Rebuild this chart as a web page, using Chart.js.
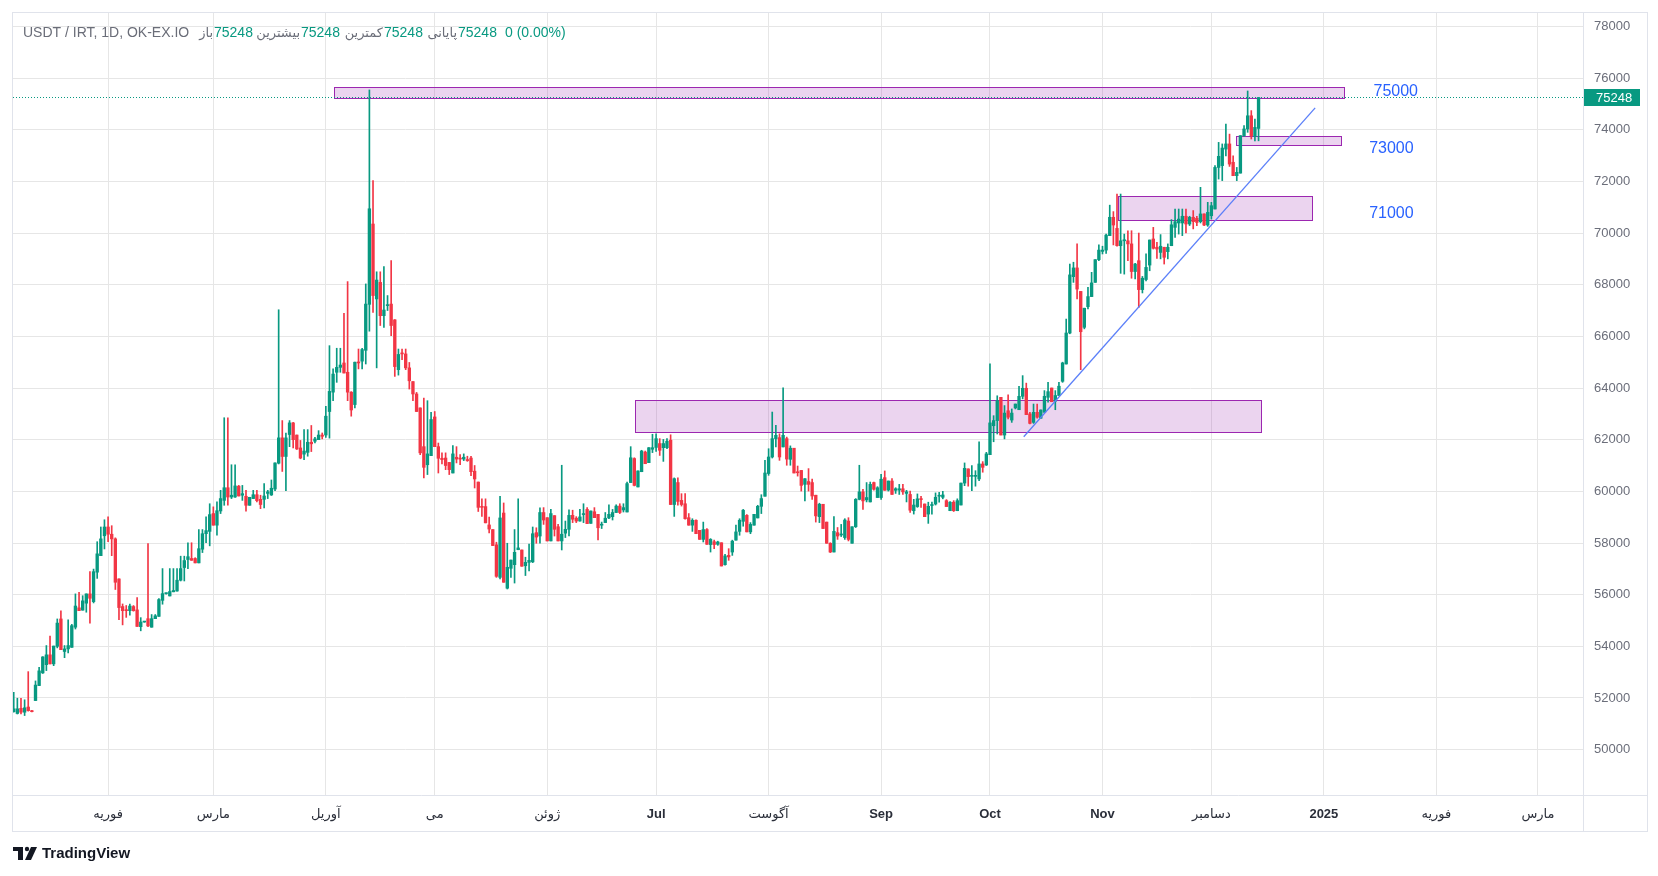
<!DOCTYPE html>
<html>
<head>
<meta charset="utf-8">
<title>USDT / IRT, 1D, OK-EX.IO</title>
<script src="https://cdn.jsdelivr.net/npm/chart.js@4.4.1/dist/chart.umd.min.js"></script>
<style>
    html, body { margin: 0; padding: 0; background: #ffffff; }
    canvas { display: block; }
</style>
</head>
<body>
<canvas id="usdtChart" width="1658" height="876" style="width:1658px;height:876px"></canvas>
<script>
// day index: 0 = 1 Jan 2024, one candle per day
const firstDay = 5;

const opens = [
    51470, 51400, 51600, 51450, 51650, 51510, 51900, 52480, 52970, 53290,
    53670, 53320, 54000, 55060, 53800, 53900, 53960, 54740, 55490, 55400,
    55670, 56030, 55730, 56870, 57510, 58280, 58620, 58340, 58160, 56610,
    55540, 55410, 55380, 55540, 55410, 54760, 54940, 55070, 54740, 55070,
    55160, 55780, 56040, 55950, 56110, 56140, 56560, 57050, 57360, 57400,
    57400, 57230, 57760, 58360, 58450, 59140, 58690, 59240, 59650, 60140,
    59780, 59780, 60200, 59850, 59810, 59460, 59720, 59870, 59690, 59690,
    59920, 59860, 60090, 61090, 62070, 61350, 62200, 62650, 62180, 61680,
    61440, 61510, 61900, 61940, 62000, 62180, 62180, 63090, 63840, 64610,
    64800, 64970, 64610, 63840, 63360, 65010, 65040, 65460, 67240, 70350,
    67450, 68090, 66800, 67190, 67250, 66640, 64710, 65360, 65320, 64780,
    64250, 63770, 63230, 61730, 61030, 61380, 62880, 61730, 61280, 61290,
    61120, 60710, 61320, 61280, 61250, 61230, 61290, 60780, 60360, 59410,
    59410, 58700, 58520, 57930, 56670, 59160, 56250, 57020, 57160, 57740,
    57730, 57120, 57250, 57270, 58400, 58270, 59180, 58980, 58080, 59060,
    58630, 58080, 58380, 58530, 59070, 58960, 58850, 59100, 59300, 58760,
    59210, 59110, 58690, 58790, 58970, 59020, 59180, 59430, 59280, 59200,
    60340, 61270, 60170, 60760, 61520, 61110, 61630, 61700, 61850, 61690,
    61690, 61980, 59490, 60340, 59650, 59520, 58980, 58690, 58880, 58490,
    58140, 58520, 57940, 58050, 57950, 58010, 57160, 57520, 57650, 58110,
    58450, 58840, 59070, 58430, 58690, 58970, 59420, 59810, 60690, 61330,
    62040, 62080, 61720, 62040, 61240, 61670, 60750, 60810, 60270, 60380,
    60340, 59850, 59020, 59500, 58810, 57990, 57650, 58400, 58310, 58210,
    58850, 57990, 58630, 59690, 59980, 59670, 59590, 60340, 59760, 59760,
    60530, 60050, 60400, 60040, 60050, 60100, 59920, 59880, 59250, 59410,
    59710, 59510, 59120, 59450, 59510, 59810, 59770, 59640, 59250, 59580,
    59250, 59470, 60320, 60870, 60580, 60580, 60480, 61060, 61020, 61420,
    62540, 62740, 63640, 62180, 63120, 62760, 63230, 63160, 63680, 63990,
    63000, 62670, 63060, 62830, 63060, 63640, 64000, 63490, 63710, 64260,
    64930, 66130, 68310, 68650, 67740, 66350, 67150, 67540, 68090, 68970,
    69290, 69340, 69900, 70610, 70180, 69510, 69700, 69700, 69580, 68510,
    68930, 67810, 68200, 68760, 69770, 69450, 69250, 69450, 69280, 69510,
    70220, 70390, 70390, 70650, 70350, 70610, 70570, 70440, 70740, 70310,
    70670, 70930, 72540, 72610, 73250, 73450, 72740, 72220, 72320, 73770,
    74030, 74540, 73740, 74050
];

const highs = [
    52220, 51990, 51990, 51930, 53020, 51520, 52660, 53190, 53600, 54030,
    54400, 54010, 55060, 55370, 54030, 55030, 54850, 56030, 56090, 55960,
    56030, 56890, 56990, 58050, 58620, 58900, 59010, 58670, 58200, 56610,
    55640, 55580, 55640, 55580, 55890, 55110, 54960, 57980, 55230, 55230,
    55850, 57010, 56060, 57010, 57010, 57010, 57490, 57490, 58010, 58010,
    57430, 58520, 58520, 59010, 59520, 59400, 59590, 60040, 62850, 62850,
    61030, 61030, 60230, 60230, 60040, 59770, 60040, 60040, 59850, 60300,
    60040, 60440, 61100, 67030, 62740, 62260, 62740, 62670, 62180, 61970,
    62390, 62390, 62550, 62090, 62350, 62260, 63290, 65640, 64740, 65540,
    65540, 66890, 68120, 63860, 65000, 65510, 65540, 68030, 75540, 72030,
    68500, 68500, 68700, 67580, 68930, 66650, 65510, 65510, 65510, 64990,
    64250, 63830, 63230, 63610, 63510, 63060, 63090, 61870, 61490, 61490,
    61120, 61770, 61730, 61420, 61450, 61360, 61360, 61000, 60360, 59710,
    59710, 59000, 58520, 58030, 59810, 59550, 57990, 57340, 58520, 59710,
    57730, 57450, 57960, 58620, 58590, 59360, 59370, 58980, 59300, 59060,
    58720, 61010, 58850, 59280, 59270, 59020, 59300, 59520, 59370, 59240,
    59370, 59110, 58810, 59180, 59480, 59300, 59480, 59520, 59520, 60360,
    61730, 61300, 60790, 61590, 61560, 61690, 62210, 62230, 62040, 62010,
    62040, 62190, 60520, 60520, 59910, 59910, 59140, 58940, 58900, 58490,
    58810, 58560, 58170, 58110, 58070, 58010, 57560, 57780, 58110, 58690,
    58940, 59300, 59100, 58790, 59110, 59460, 59870, 61200, 61650, 63070,
    62560, 62230, 64010, 62100, 61760, 61670, 60980, 60810, 60490, 60880,
    60470, 59850, 59540, 59500, 58810, 58010, 59020, 58600, 58720, 58940,
    58980, 58630, 59720, 61010, 60080, 60340, 60360, 60360, 60180, 60660,
    60790, 60400, 60490, 60140, 60270, 60270, 60040, 60010, 59690, 59900,
    59810, 59510, 59580, 59580, 59940, 59960, 60000, 59680, 59600, 59640,
    59710, 60320, 61100, 60870, 61000, 60800, 61920, 61150, 61510, 64940,
    62930, 63700, 63640, 63320, 63740, 63190, 63380, 64070, 64480, 64190,
    63060, 63380, 63380, 63150, 63900, 64220, 64000, 63900, 64220, 65000,
    66670, 68800, 68870, 69580, 67740, 67090, 67900, 68480, 68970, 69540,
    69490, 69960, 71080, 70830, 71510, 71510, 69960, 70090, 70090, 68830,
    70000, 68320, 69200, 69730, 70220, 69640, 69940, 69450, 69580, 70520,
    70930, 70930, 70930, 70930, 70650, 70870, 70650, 71770, 70740, 71190,
    71190, 72610, 73510, 73450, 74220, 73830, 72990, 72540, 73770, 74160,
    75500, 74740, 74410, 75248
];

const lows = [
    51450, 51380, 51380, 51320, 51490, 51460, 51900, 52480, 52950, 53060,
    53320, 53250, 53940, 53870, 53560, 53740, 53960, 54670, 55380, 55400,
    55320, 54900, 55680, 56630, 57510, 57770, 58050, 57510, 56200, 55030,
    54830, 55120, 55210, 55360, 54770, 54600, 54930, 54760, 54740, 55070,
    55160, 55630, 56020, 55950, 56110, 56140, 56530, 56530, 57010, 57330,
    57230, 57230, 57630, 58010, 57890, 58690, 58300, 59140, 59460, 59460,
    59720, 59760, 59820, 59650, 59230, 59460, 59720, 59590, 59330, 59360,
    59720, 59840, 60030, 61060, 60770, 60030, 61730, 61680, 61620, 61260,
    61230, 61360, 61540, 61870, 62000, 62030, 62090, 62060, 63510, 64220,
    64610, 64580, 63510, 62910, 63230, 64740, 64740, 64930, 66200, 66930,
    64780, 66420, 66350, 67000, 66030, 64450, 64500, 65100, 64710, 63960,
    63510, 63090, 61420, 60520, 60650, 61380, 61730, 60710, 61060, 60840,
    60650, 60710, 61100, 61030, 61190, 61160, 60610, 60130, 59220, 59030,
    58780, 58390, 57900, 56670, 56610, 56480, 56220, 56670, 56450, 57740,
    57100, 56740, 56920, 57240, 57990, 57990, 58720, 58080, 58080, 58270,
    58080, 57730, 58210, 58270, 58790, 58790, 58850, 58790, 58750, 58760,
    58980, 58120, 58560, 58790, 58940, 58890, 59180, 59140, 59200, 59200,
    60340, 60210, 60170, 60760, 61070, 61110, 61500, 61550, 61390, 61160,
    61650, 59490, 59030, 59460, 59430, 58920, 58690, 58450, 58360, 58140,
    58040, 57950, 57650, 57780, 57910, 57110, 57140, 57330, 57520, 58110,
    58300, 58650, 58430, 58360, 58690, 58970, 59140, 59810, 60620, 61290,
    61720, 61200, 61720, 61010, 61010, 60710, 60590, 60010, 59630, 60010,
    59690, 58810, 58790, 58560, 57990, 57630, 57650, 58140, 58250, 58140,
    58080, 57990, 58600, 59670, 59300, 59590, 59590, 60050, 59760, 59690,
    60040, 60010, 59880, 59920, 59880, 59880, 59590, 59180, 59120, 59380,
    59380, 59020, 58760, 59120, 59470, 59580, 59710, 59410, 59250, 59220,
    59250, 59470, 60220, 60200, 60030, 60200, 60410, 60740, 61000, 61420,
    61920, 62220, 62180, 62030, 62800, 62670, 63190, 63160, 63580, 62970,
    62610, 62630, 62830, 62830, 63060, 63450, 63470, 63160, 63710, 64220,
    64930, 66100, 68090, 67450, 64710, 66290, 67060, 67540, 68090, 68930,
    69190, 69210, 69900, 69540, 69490, 68440, 68410, 68930, 68250, 68220,
    67120, 67680, 68150, 68540, 69380, 69020, 69000, 68800, 69000, 69510,
    69830, 69960, 69900, 70000, 70290, 70160, 70290, 70390, 70290, 70260,
    70540, 70930, 72090, 72030, 72990, 72580, 72220, 72030, 72320, 73740,
    73900, 73640, 73570, 73570
];

const closes = [
    51580, 51580, 51450, 51620, 51510, 51470, 52500, 53050, 53590, 53670,
    53320, 54010, 54900, 53870, 53900, 54030, 54800, 55560, 55380, 55760,
    56030, 55860, 56890, 57580, 58160, 58620, 58340, 58160, 56480, 55500,
    55380, 55380, 55560, 55380, 54770, 54940, 54950, 54790, 55070, 55180,
    55810, 56040, 56040, 56120, 56160, 56560, 57010, 57320, 57470, 57330,
    57230, 57780, 58360, 58480, 59100, 58690, 59250, 59720, 60140, 59780,
    59850, 60210, 59820, 59910, 59460, 59770, 59870, 59640, 59490, 59820,
    59980, 60120, 61100, 62070, 61350, 62070, 62650, 62000, 61640, 61290,
    61560, 61900, 61840, 62030, 62180, 62130, 62910, 63870, 64540, 64800,
    64890, 64580, 63840, 63150, 65000, 64970, 65490, 67250, 70940, 67580,
    68180, 66800, 67020, 67220, 66420, 64830, 65300, 65320, 64780, 64280,
    63770, 63090, 61490, 60930, 61450, 62780, 61730, 61280, 61230, 61000,
    60840, 61450, 61250, 61250, 61320, 61190, 60760, 60480, 59380, 59380,
    58780, 58540, 57900, 56710, 58970, 56480, 57060, 57340, 57640, 57810,
    57100, 57250, 57330, 58360, 58230, 59180, 58890, 58080, 59140, 58530,
    58080, 58340, 58530, 59070, 58920, 58850, 59010, 59110, 58750, 59240,
    58980, 58590, 58720, 58960, 59110, 59180, 59430, 59180, 59370, 60300,
    61300, 60230, 60790, 61560, 61070, 61690, 61690, 62040, 61590, 61850,
    61940, 59490, 60490, 59610, 59490, 58940, 58690, 58880, 58360, 58140,
    58520, 57950, 58140, 57940, 58040, 57110, 57500, 57460, 58070, 58430,
    58880, 59270, 58430, 58720, 59110, 59420, 59720, 60710, 61330, 62040,
    62170, 61330, 62170, 61250, 61670, 60710, 60720, 60230, 60490, 60270,
    59820, 59050, 59500, 58560, 57990, 57650, 58450, 58270, 58350, 58890,
    58140, 58630, 59690, 59980, 59630, 59760, 60270, 60080, 60140, 60470,
    60040, 60400, 59880, 60100, 60100, 59980, 59980, 59270, 59470, 59710,
    59680, 59020, 59420, 59490, 59770, 59830, 59860, 59410, 59580, 59250,
    59640, 60320, 60890, 60570, 60610, 60610, 61060, 60930, 61450, 62650,
    62740, 63510, 62180, 63030, 62870, 63030, 63380, 63680, 63990, 62970,
    62630, 63060, 62870, 63150, 63680, 63860, 63470, 63710, 64070, 64970,
    66130, 68380, 68650, 67830, 66180, 67090, 67540, 68070, 68970, 69340,
    69340, 69920, 70610, 70310, 69510, 69700, 69740, 69580, 68510, 68800,
    67810, 68250, 68670, 69730, 69410, 69380, 69490, 69060, 69450, 70320,
    70440, 70540, 70650, 70350, 70610, 70440, 70410, 70740, 70310, 70800,
    71060, 72540, 72970, 73290, 73450, 72670, 72220, 72350, 73770, 74030,
    74540, 73770, 74090, 75248
];

const lastPrice = 75248;

const monthTickDays = [31, 60, 91, 121, 152, 182, 213, 244, 274, 305, 335, 366, 397, 425];
const monthTickLabels = ["فوریه", "مارس", "آوریل", "می", "ژوئن", "Jul", "آگوست", "Sep", "Oct", "Nov", "دسامبر", "2025", "فوریه", "مارس"];
const boldTickLabels = ["Jul", "Sep", "Oct", "Nov", "2025"];
const priceTicks = [50000, 52000, 54000, 56000, 58000, 60000, 62000, 64000, 66000, 68000, 70000, 72000, 74000, 76000, 78000];

// drawn zones (start day, end day, low, high)
const zoneStartDays = [93.3, 176.3, 309.4, 341.8];
const zoneEndDays = [371.5, 348.8, 362.6, 370.7];
const zoneLows = [75220, 62280, 70500, 73400];
const zoneHighs = [75670, 63540, 71420, 73770];

// trend line
const trendDays = [283.3, 363.6];
const trendValues = [62115, 74845];

const levelLabels = ["75000", "73000", "71000"];
const levelLabelDays = [385.8, 384.6, 384.6];
const levelLabelValues = [75460, 73268, 70741];

// header legend: open, high, low, close
const legendNames = ["باز", "بیشترین", "کمترین", "پایانی"];
const legendValues = [75248, 75248, 75248, 75248];
const legendChange = "0 (0.00%)";

const UP = "#089981";
const DOWN = "#f23645";
const FONT = "'Liberation Sans', 'DejaVu Sans', sans-serif";

document.addEventListener("DOMContentLoaded", () => {
    renderCandles();
});

function buildCandleData() {
    const wicks = [];
    const bodies = [];
    const colors = [];
    opens.forEach((open, i) => {
        const day = firstDay + i;
        wicks.push({ x: day, y: [lows[i], highs[i]] });
        bodies.push({ x: day, y: [open, closes[i]] });
        colors.push(closes[i] >= open ? UP : DOWN);
    });
    return { wicks, bodies, colors };
}

const overlayPlugin = {
    id: "overlays",
    beforeDraw(chart) {
        const ctx = chart.ctx;
        ctx.save();
        ctx.fillStyle = "#ffffff";
        ctx.fillRect(0, 0, chart.width, chart.height);
        ctx.restore();
    },
    beforeDatasetsDraw(chart) {
        const { ctx, chartArea, scales } = chart;
        const x = scales.x;
        const y = scales.y;
        ctx.save();
        ctx.beginPath();
        ctx.rect(chartArea.left, chartArea.top, chartArea.right - chartArea.left, chartArea.bottom - chartArea.top);
        ctx.clip();
        zoneStartDays.forEach((startDay, i) => {
            const left = Math.round(x.getPixelForValue(startDay)) + 0.5;
            const right = Math.round(x.getPixelForValue(zoneEndDays[i])) + 0.5;
            const top = Math.round(y.getPixelForValue(zoneHighs[i])) + 0.5;
            const bottom = Math.round(y.getPixelForValue(zoneLows[i])) + 0.5;
            ctx.fillStyle = "rgba(156, 39, 176, 0.2)";
            ctx.fillRect(left, top, right - left, bottom - top);
            ctx.strokeStyle = "#9c27b0";
            ctx.lineWidth = 1;
            ctx.strokeRect(left, top, right - left, bottom - top);
        });
        ctx.restore();
    },
    afterDatasetsDraw(chart) {
        const { ctx, chartArea, scales } = chart;
        const x = scales.x;
        const y = scales.y;
        ctx.save();
        // last price dotted line
        const py = Math.round(y.getPixelForValue(lastPrice)) + 0.5;
        ctx.strokeStyle = UP;
        ctx.lineWidth = 1;
        ctx.setLineDash([1, 2]);
        ctx.beginPath();
        ctx.moveTo(chartArea.left, py);
        ctx.lineTo(chartArea.right, py);
        ctx.stroke();
        ctx.setLineDash([]);
        // trend line
        ctx.strokeStyle = "#5b7ff9";
        ctx.lineWidth = 1.3;
        ctx.beginPath();
        ctx.moveTo(x.getPixelForValue(trendDays[0]), y.getPixelForValue(trendValues[0]));
        ctx.lineTo(x.getPixelForValue(trendDays[1]), y.getPixelForValue(trendValues[1]));
        ctx.stroke();
        // level labels
        ctx.fillStyle = "#2962ff";
        ctx.font = "16px " + FONT;
        ctx.textAlign = "center";
        ctx.textBaseline = "middle";
        levelLabels.forEach((label, i) => {
            ctx.fillText(label, x.getPixelForValue(levelLabelDays[i]), y.getPixelForValue(levelLabelValues[i]));
        });
        ctx.restore();
    },
    afterDraw(chart) {
        const { ctx, chartArea, scales } = chart;
        const y = scales.y;
        ctx.save();
        // frame and axis separators
        ctx.strokeStyle = "#e0e3eb";
        ctx.lineWidth = 1;
        ctx.strokeRect(12.5, 12.5, 1635, 819);
        ctx.beginPath();
        ctx.moveTo(chartArea.right + 0.5, 12.5);
        ctx.lineTo(chartArea.right + 0.5, 831.5);
        ctx.moveTo(12.5, chartArea.bottom + 0.5);
        ctx.lineTo(1647.5, chartArea.bottom + 0.5);
        ctx.stroke();

        // price tag
        const py = y.getPixelForValue(lastPrice);
        ctx.fillStyle = UP;
        ctx.fillRect(chartArea.right + 1, Math.round(py) - 8, 56, 17);
        ctx.fillStyle = "#ffffff";
        ctx.font = "13px " + FONT;
        ctx.textAlign = "left";
        ctx.textBaseline = "middle";
        ctx.fillText(String(lastPrice), chartArea.right + 13, py + 1);

        // header: symbol, then each name right-aligned against its value
        const headerY = 33;
        const valueX = [214, 301, 384, 458];
        ctx.font = "14px " + FONT;
        ctx.fillStyle = "#6a6d78";
        ctx.fillText("USDT / IRT, 1D, OK-EX.IO", 23, headerY);
        legendNames.forEach((name, i) => {
            ctx.font = "13px " + FONT;
            ctx.textAlign = "right";
            ctx.fillStyle = "#6a6d78";
            ctx.fillText(name, valueX[i] - 1, headerY);
            ctx.font = "14px " + FONT;
            ctx.textAlign = "left";
            ctx.fillStyle = UP;
            ctx.fillText(String(legendValues[i]), valueX[i], headerY);
        });
        ctx.fillText(legendChange, 505, headerY);

        // TradingView mark
        ctx.fillStyle = "#131722";
        ctx.fillRect(13, 847, 10, 4);
        ctx.fillRect(18, 847, 5, 13);
        ctx.beginPath();
        ctx.arc(27, 849, 2.2, 0, Math.PI * 2);
        ctx.fill();
        ctx.beginPath();
        ctx.moveTo(31, 847);
        ctx.lineTo(37, 847);
        ctx.lineTo(31, 860);
        ctx.lineTo(25, 860);
        ctx.closePath();
        ctx.fill();
        ctx.font = "600 15px " + FONT;
        ctx.fillText("TradingView", 42, 854);
        ctx.restore();
    }
};

function renderCandles() {
    const ctx = document.getElementById("usdtChart").getContext("2d");
    const data = buildCandleData();

    new Chart(ctx, {
        type: "bar",
        data: {
            datasets: [{
                label: "wick",
                data: data.wicks,
                backgroundColor: data.colors,
                barThickness: 1,
                grouped: false,
                minBarLength: 1
            }, {
                label: "body",
                data: data.bodies,
                backgroundColor: data.colors,
                barThickness: 2.7,
                grouped: false,
                minBarLength: 1
            }]
        },
        options: {
            responsive: false,
            animation: false,
            devicePixelRatio: 1,
            layout: { padding: { left: 13, top: 13, right: 0, bottom: 0 } },
            plugins: {
                legend: { display: false },
                tooltip: { enabled: false }
            },
            scales: {
                x: {
                    type: "linear",
                    min: 4.8,
                    max: 437.4,
                    offset: false,
                    afterFit: (scale) => {
                        scale.height = 81;
                        scale.paddingLeft = 0;
                        scale.paddingRight = 0;
                    },
                    afterBuildTicks: (scale) => {
                        scale.ticks = monthTickDays.map((d) => ({ value: d }));
                    },
                    grid: { color: "#e6e6e6", drawTicks: false, offset: false },
                    border: { display: false },
                    ticks: {
                        autoSkip: false,
                        maxRotation: 0,
                        padding: 12,
                        color: "#2a2e39",
                        font: (c) => ({
                            size: 13,
                            family: FONT,
                            weight: boldTickLabels.includes(monthTickLabels[c.index]) ? "bold" : "normal"
                        }),
                        callback: (value, index) => monthTickLabels[index]
                    }
                },
                y: {
                    position: "right",
                    min: 48244,
                    max: 78519,
                    afterFit: (scale) => {
                        scale.width = 75;
                        scale.paddingTop = 0;
                        scale.paddingBottom = 0;
                    },
                    afterBuildTicks: (scale) => {
                        scale.ticks = priceTicks.map((v) => ({ value: v }));
                    },
                    grid: { color: "#e6e6e6", drawTicks: false },
                    border: { display: false },
                    ticks: {
                        padding: 11,
                        color: "#6b6e7a",
                        font: { size: 13, family: FONT },
                        callback: (value) => String(value)
                    }
                }
            }
        },
        plugins: [overlayPlugin]
    });
}
</script>
</body>
</html>
